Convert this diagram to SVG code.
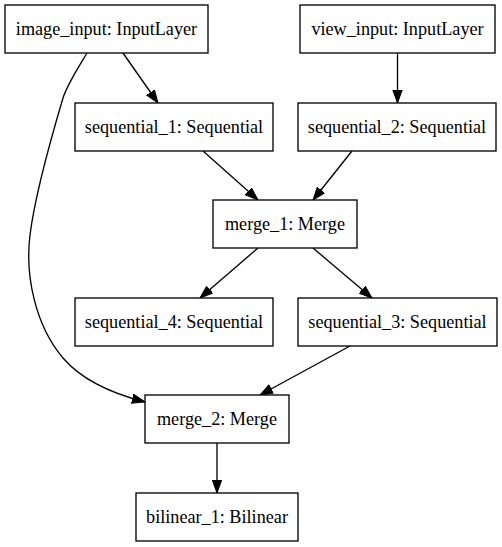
<svg xmlns="http://www.w3.org/2000/svg" width="502" height="547" viewBox="0 0 502 547">
<style>
.node rect{fill:#fff;stroke:#000;stroke-width:1.33}
.node text{font-family:"Liberation Serif","Times New Roman",serif;font-size:18.2px;fill:#000;text-anchor:middle}
.edge{fill:none;stroke:#000;stroke-width:1.33;marker-end:url(#arr)}
</style>
<defs>
<marker id="arr" markerUnits="userSpaceOnUse" markerWidth="14" markerHeight="11" viewBox="0 0 14 11" refX="13" refY="5.5" orient="auto">
<path d="M0,0.8 L13,5.5 L0,10.2 z" fill="#000" stroke="#000" stroke-width="1"/>
</marker>
</defs>
<rect width="502" height="547" fill="#fff"/>
<g id="connectors">
<path class="edge" d="M123,53 L158,103"/>
<path class="edge" d="M397.5,53 L397.5,103"/>
<path class="edge" d="M203,151 L258,200"/>
<path class="edge" d="M352,151 L313,200"/>
<path class="edge" d="M258,248 L200,298"/>
<path class="edge" d="M313,248 L372,298"/>
<path class="edge" d="M350,346 L260,395"/>
<path class="edge" d="M217,443 L217,493"/>
<path class="edge" d="M87,53 C80,65 68,83 63,98 C52,135 35,195 30,235 C25,275 35,325 63,358 C80,378 110,393 145,402"/>
</g>
<g id="image_input" class="node"><rect x="5" y="5" width="203" height="48"/><text x="106.5" y="35">image_input: InputLayer</text></g>
<g id="view_input" class="node"><rect x="300" y="5" width="195" height="48"/><text x="397.5" y="35">view_input: InputLayer</text></g>
<g id="sequential_1" class="node"><rect x="75" y="103" width="198" height="48"/><text x="174" y="133">sequential_1: Sequential</text></g>
<g id="sequential_2" class="node"><rect x="298" y="103" width="198" height="48"/><text x="397" y="133">sequential_2: Sequential</text></g>
<g id="merge_1" class="node"><rect x="213" y="200" width="144" height="48"/><text x="285" y="230">merge_1: Merge</text></g>
<g id="sequential_4" class="node"><rect x="75" y="298" width="198" height="48"/><text x="174" y="328">sequential_4: Sequential</text></g>
<g id="sequential_3" class="node"><rect x="298" y="298" width="199" height="48"/><text x="397.5" y="328">sequential_3: Sequential</text></g>
<g id="merge_2" class="node"><rect x="145" y="395" width="144" height="48"/><text x="217" y="425">merge_2: Merge</text></g>
<g id="bilinear_1" class="node"><rect x="136" y="493" width="162" height="48"/><text x="217" y="523">bilinear_1: Bilinear</text></g>
</svg>
